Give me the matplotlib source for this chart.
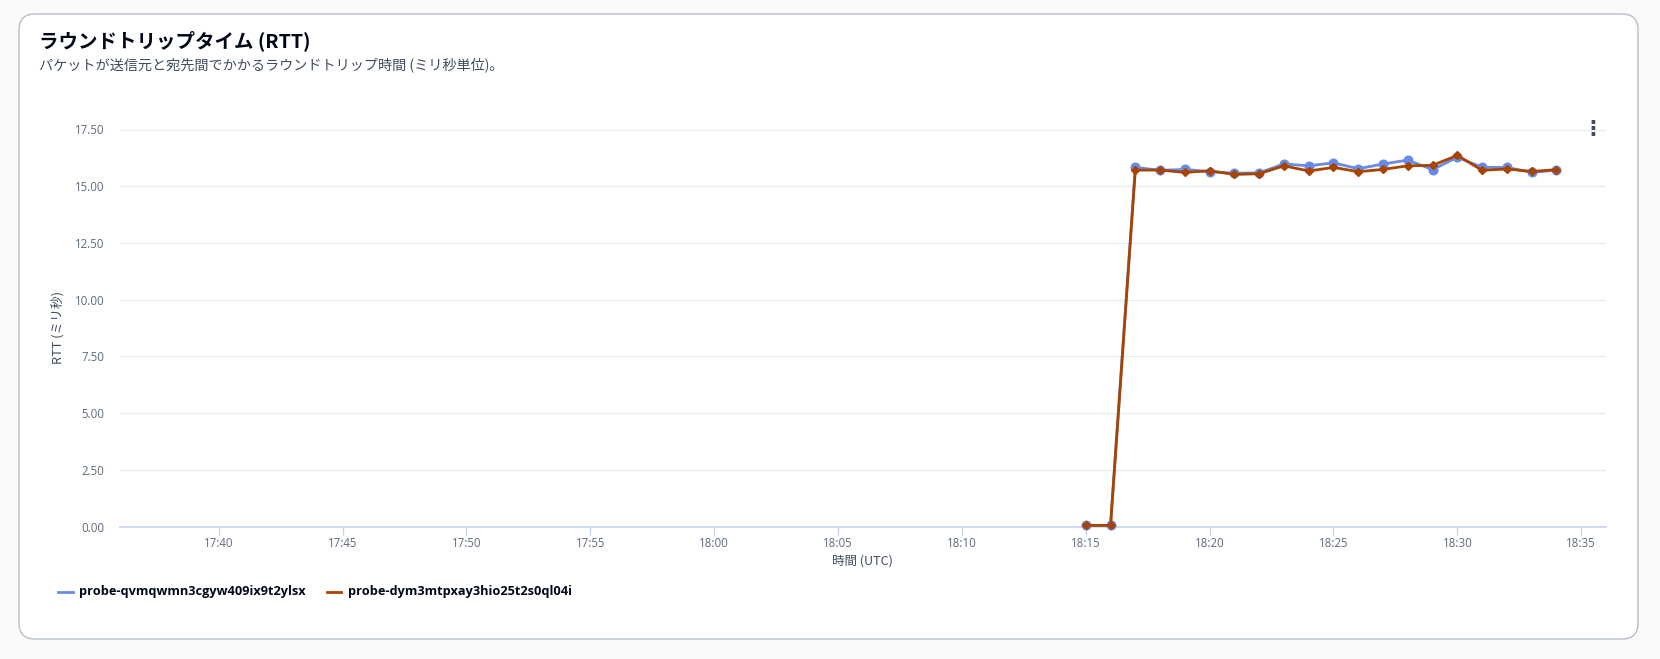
import matplotlib
matplotlib.use('Agg')
import matplotlib.pyplot as plt
import matplotlib.dates as mdates
from matplotlib.patches import FancyBboxPatch
from matplotlib.transforms import IdentityTransform
from matplotlib.lines import Line2D
import pandas as pd

plt.rcParams['font.family'] = ['Noto Sans CJK JP', 'DejaVu Sans']

# ---- data ----
times = ["18:15", "18:16", "18:17", "18:18", "18:19", "18:20", "18:21", "18:22",
         "18:23", "18:24", "18:25", "18:26", "18:27", "18:28", "18:29", "18:30",
         "18:31", "18:32", "18:33", "18:34"]
probe_a = [0.05, 0.05, 15.83, 15.70, 15.74, 15.64, 15.57, 15.59, 15.98, 15.90,
           16.03, 15.77, 15.98, 16.15, 15.73, 16.28, 15.83, 15.83, 15.61, 15.71]
probe_b = [0.05, 0.05, 15.71, 15.71, 15.61, 15.68, 15.52, 15.55, 15.90, 15.67,
           15.83, 15.64, 15.74, 15.90, 15.92, 16.36, 15.70, 15.76, 15.65, 15.73]
series_names = ["probe-qvmqwmn3cgyw409ix9t2ylsx", "probe-dym3mtpxay3hio25t2s0ql04i"]
x_range = ["17:36", "18:36"]
y_ticks = [0, 2.5, 5, 7.5, 10, 12.5, 15, 17.5]

title = "ラウンドトリップタイム (RTT)"
subtitle = "パケットが送信元と宛先間でかかるラウンドトリップ時間 (ミリ秒単位)。"
x_label = "時間 (UTC)"
y_label = "RTT (ミリ秒)"

colors = ["#688ae8", "#a84401"]

day = "2024-01-01 "
t = pd.to_datetime([day + s for s in times])
xr = pd.to_datetime([day + s for s in x_range])

W, H = 1660, 659
fig = plt.figure(figsize=(W / 100, H / 100), dpi=100, facecolor="#fafafa")

card = FancyBboxPatch((19, 20), 1619, 625,
                      boxstyle="round,pad=0,rounding_size=16",
                      transform=IdentityTransform(),
                      facecolor="white", edgecolor="#b6bec9", linewidth=1, zorder=0)
fig.add_artist(card)

fig.text(39 / W, 1 - 41 / H, title, fontsize=14, fontweight="bold",
         color="#000716", va="center", ha="left")
fig.text(39 / W, 1 - 65 / H, subtitle, fontsize=10.2, color="#414d5c",
         va="center", ha="left")
fig.text(1593 / W, 1 - 128 / H, "⋮", fontsize=15, fontweight="bold",
         color="#414d5c", va="center", ha="center", family="DejaVu Sans")

left, right = 119.6, 1606
bottom, top = 526.5, 129.5
ax = fig.add_axes([left / W, 1 - bottom / H, (right - left) / W, (bottom - top) / H])
ax.set_facecolor("white")

ax.plot(t, probe_a, color=colors[0], lw=2, marker="o", ms=6.2, zorder=3, clip_on=False)
ax.plot(t, probe_b, color=colors[1], lw=2, marker="D", ms=4.2, zorder=4, clip_on=False)

ax.set_xlim(xr[0], xr[1])
ax.set_ylim(0, 17.5)
ax.set_yticks(y_ticks)
ax.set_yticklabels([f"{v:.2f}" for v in y_ticks])
ax.xaxis.set_major_locator(mdates.MinuteLocator(byminute=range(0, 60, 5)))
ax.xaxis.set_major_formatter(mdates.DateFormatter("%H:%M"))

ax.grid(axis="y", color="#e9ebed", linewidth=1)
ax.set_axisbelow(True)
for s in ["top", "right", "left"]:
    ax.spines[s].set_visible(False)
ax.spines["bottom"].set_color("#c6d4e9")
ax.spines["bottom"].set_linewidth(1.2)
ax.spines["bottom"].set_zorder(2)

tick_family = ["Open Sans", "DejaVu Sans"]
ax.tick_params(axis="x", length=6, width=1, color="#c6d4e9", pad=1.5, labelcolor="#5f6b7a")
ax.tick_params(axis="y", length=0, pad=11, labelcolor="#5f6b7a")
for lab in ax.get_xticklabels() + ax.get_yticklabels():
    lab.set_fontfamily(tick_family)
    lab.set_fontsize(8.3)

ax.set_xlabel(x_label, fontsize=9, color="#414d5c")
ax.xaxis.set_label_coords(0.5, (bottom - 554.5) / (bottom - top))
ax.set_ylabel(y_label, fontsize=9.2, color="#414d5c")
ax.yaxis.set_label_coords((65 - left) / (right - left), 0.5)

# legend (manual, positioned like the reference)
leg_y = 1 - 592 / H
leg_line_x = [(58.3, 73.3), (326.7, 341)]
leg_text_x = [79, 347.7]
for c, name, (x0, x1), tx in zip(colors, series_names, leg_line_x, leg_text_x):
    fig.add_artist(Line2D([x0 / W, x1 / W], [leg_y, leg_y], color=c, lw=2,
                          transform=fig.transFigure))
    fig.text(tx / W, leg_y, name, fontsize=9.2, fontweight="bold",
             family=["Open Sans", "DejaVu Sans"], color="#000716",
             va="center", ha="left")

fig.savefig("out.png", dpi=100, facecolor=fig.get_facecolor())
